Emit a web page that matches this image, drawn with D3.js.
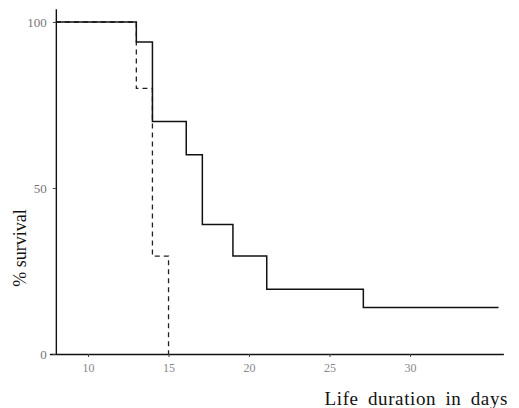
<!DOCTYPE html>
<html>
<head>
<meta charset="utf-8">
<script src="https://cdn.jsdelivr.net/npm/d3@7"></script>
<style>
  body { margin: 0; background: #fff; }
  svg { display: block; }
</style>
</head>
<body>
<div id="chart"></div>
<script>
// data
const solidDays = [8, 13, 14, 16.1, 17.1, 19, 21.1, 27.1, 35.5];
const solidSurvival = [100, 94, 70, 60, 39, 29.5, 19.5, 14, 14];
const dashedDays = [8, 13, 14, 15];
const dashedSurvival = [100, 80, 29.5, 0];
const xTicks = [10, 15, 20, 25, 30];
const yTicks = [0, 50, 100];

const width = 519;
const height = 408;

const svg = d3.select("#chart").append("svg")
  .attr("width", width)
  .attr("height", height);

// scales (axis starts a little left of day 8)
const x = d3.scaleLinear().domain([7.6, 35.8]).range([49.4, 503.4]);
const y = d3.scaleLinear().domain([0, 104]).range([354, 8.7]);

// x axis
const xAxis = svg.append("g")
  .attr("transform", `translate(0, ${y(0)})`)
  .call(d3.axisBottom(x).tickValues(xTicks).tickSize(3).tickSizeOuter(0).tickPadding(6));
xAxis.select(".domain").attr("stroke", "#111").attr("stroke-width", 1.4);
xAxis.selectAll(".tick line").attr("stroke", "#444");
xAxis.selectAll("text")
  .attr("fill", "#888")
  .attr("font-family", "Liberation Serif, serif")
  .attr("font-size", 12);

// y axis
const yAxis = svg.append("g")
  .attr("transform", `translate(${x(8)}, 0)`)
  .call(d3.axisLeft(y).tickValues(yTicks).tickSize(3).tickSizeOuter(0).tickPadding(6));
yAxis.select(".domain").attr("stroke", "#111").attr("stroke-width", 1.4);
yAxis.selectAll(".tick line").attr("stroke", "#444");
yAxis.selectAll("text")
  .attr("fill", "#777")
  .attr("font-family", "Liberation Serif, serif")
  .attr("font-size", 13);

// step lines
const line = d3.line()
  .x(d => x(d[0]))
  .y(d => y(d[1]))
  .curve(d3.curveStepAfter);

svg.append("path")
  .datum(d3.zip(dashedDays, dashedSurvival))
  .attr("d", line)
  .attr("fill", "none")
  .attr("stroke", "#222")
  .attr("stroke-width", 1.3)
  .attr("stroke-dasharray", "5,4");

svg.append("path")
  .datum(d3.zip(solidDays, solidSurvival))
  .attr("d", line)
  .attr("fill", "none")
  .attr("stroke", "#111")
  .attr("stroke-width", 1.5);

// axis titles
svg.append("text")
  .attr("transform", `translate(26, 248) rotate(-90)`)
  .attr("text-anchor", "middle")
  .attr("font-family", "Liberation Serif, serif")
  .attr("font-size", 18)
  .attr("fill", "#111")
  .text("% survival");

svg.append("text")
  .attr("x", 508)
  .attr("y", 405)
  .attr("text-anchor", "end")
  .attr("font-family", "Liberation Serif, serif")
  .attr("font-size", 19)
  .attr("letter-spacing", 0.6)
  .attr("word-spacing", 4)
  .attr("fill", "#111")
  .text("Life duration in days");
</script>
</body>
</html>
